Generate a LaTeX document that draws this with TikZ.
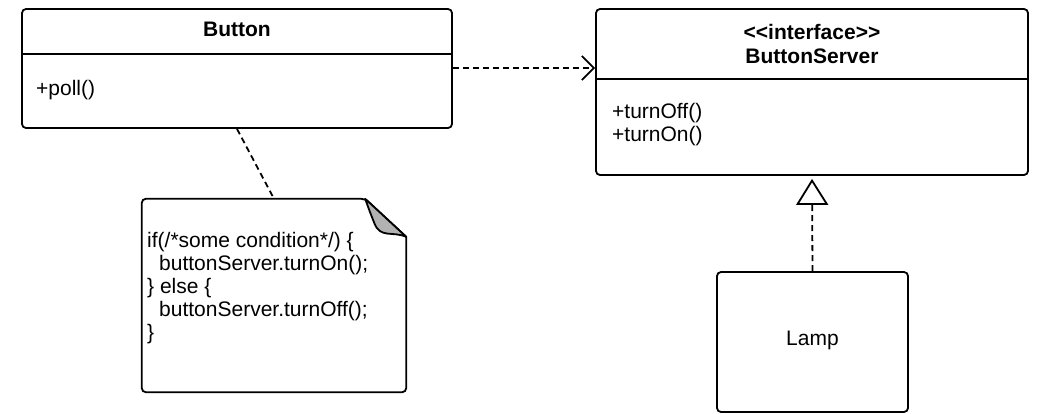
\documentclass[tikz,border=0pt]{standalone}
\usepackage{fontspec}
\setmainfont{Liberation Sans}
\usetikzlibrary{arrows.meta,calc}
\begin{document}
\begin{tikzpicture}[x=1pt,y=-1pt,
  umlbox/.style={draw, line width=1.8pt, rounded corners=4pt, inner sep=0pt},
  label/.style={font=\fontsize{21}{23}\selectfont, inner sep=0pt},
  title/.style={label, font=\fontsize{21}{24}\selectfont\bfseries, align=center},
  link/.style={line width=1.8pt, dash pattern=on 6pt off 4pt}
]
\useasboundingbox (0,0) rectangle (1038,413);

% classes
\node[umlbox, minimum width=430pt, minimum height=119pt] (button) at (237,68.5) {};
\node[umlbox, minimum width=432pt, minimum height=166pt] (server) at (812,92) {};
\node[umlbox, minimum width=191pt, minimum height=140pt] (lamp) at (812.5,342) {};

% compartment separators
\draw[line width=1.8pt] (button.west |- 0,54) -- (button.east |- 0,54);
\draw[line width=1.8pt] (server.west |- 0,79) -- (server.east |- 0,79);

% class texts
\node[title] (buttonname) at (237,29) {Button};
\node[label, anchor=west] (poll) at (36,90) {+poll()};
\node[title] (servername) at (812,43.5) {\fontsize{21}{24}\selectfont\bfseries <{}<interface>{}>\\ButtonServer};
\node[label, anchor=north west, align=left] (ops) at (612,103) {+turnOff()\\+turnOn()};
\node[label] (lampname) at (812.5,340) {Lamp};

% note with folded corner
\node[minimum width=264pt, minimum height=193pt, inner sep=0pt] (note) at (274,295.5) {};
\draw[line width=1.8pt, rounded corners=4pt]
  (note.north west) -- ($(note.north east)+(-41,0)$)
  [sharp corners] -- ($(note.north east)+(0,38)$)
  [rounded corners=4pt] -- (note.south east) -- (note.south west) -- cycle;
\filldraw[fill=black!30, line width=1.8pt, line join=round]
  ($(note.north east)+(-41,0)$) -- ($(note.north east)+(0,38)$)
  .. controls ($(note.north east)+(-14,32)$) and ($(note.north east)+(-26,40)$) .. ($(note.north east)+(-32,24)$)
  .. controls ($(note.north east)+(-36,14)$) .. cycle;
\node[label, anchor=north west, align=left] (code) at (147,232)
  {if(/*some condition*/) \{\\
   \hspace*{12pt}buttonServer.turnOn();\\
   \} else \{\\
   \hspace*{12pt}buttonServer.turnOff();\\
   \}};

% connectors
\draw[link, -{Straight Barb[length=12pt, width=24pt, line width=1.8pt]}]
  (button.east |- 0,68) -- (server.west |- 0,68);
\draw[link] (button.south) -- (note.north);
\draw[link, -{Triangle[open, length=26pt, width=32pt, line width=1.8pt]}, shorten >=3pt]
  (lamp.north) -- (server.south);
\end{tikzpicture}
\end{document}
